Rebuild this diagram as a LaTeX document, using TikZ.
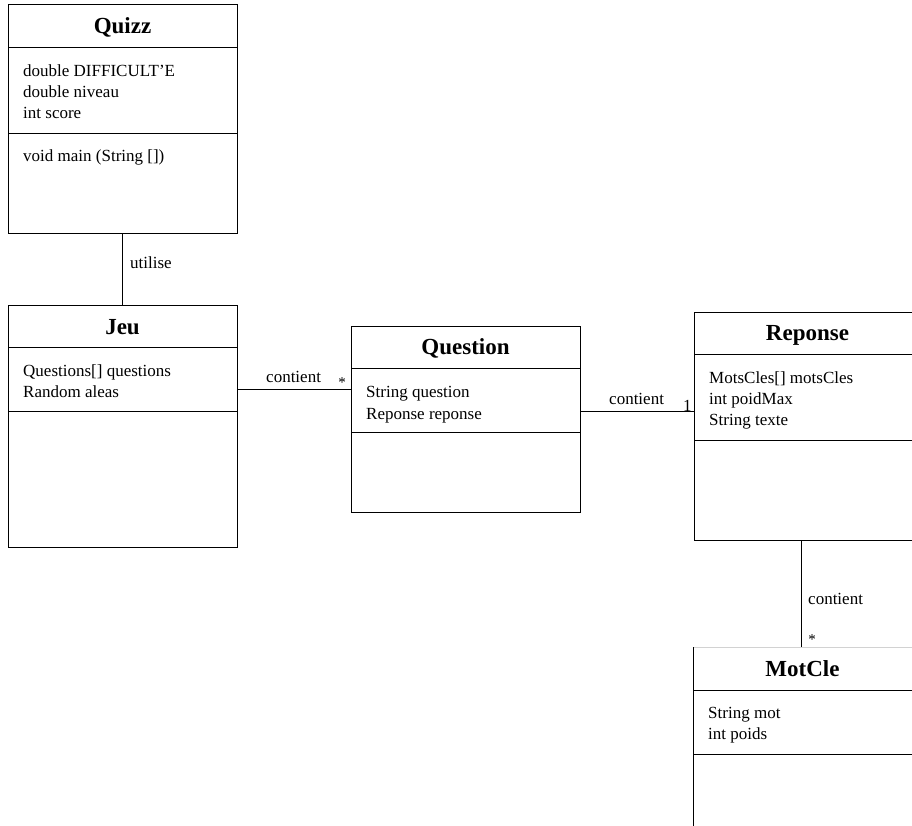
\documentclass[tikz,border=0pt]{standalone}
\usepackage{fontspec}
\setmainfont{Liberation Serif}
\usetikzlibrary{calc}
\begin{document}
\begin{tikzpicture}[x=1pt,y=-1pt,
  classbox/.style={draw, line width=0.9pt, inner sep=0pt, outer sep=0pt, anchor=north west},
  sep/.style={line width=0.9pt},
  conn/.style={line width=0.9pt},
  title/.style={anchor=base, inner sep=0pt, font=\fontsize{23}{27}\selectfont\bfseries},
  attr/.style={anchor=base west, inner sep=0pt, font=\fontsize{17}{21}\selectfont},
  lbl/.style={anchor=base west, inner sep=0pt, font=\fontsize{17}{21}\selectfont},
  mult/.style={anchor=center, inner sep=0pt, font=\fontsize{15}{17}\selectfont}
]
\useasboundingbox (0,0) rectangle (912,825);
\clip (0,0) rectangle (912,825);
\fill[white] (0,0) rectangle (912,825);

% Quizz
\node[classbox, minimum width=229pt, minimum height=229pt] (quizz) at (8,4) {};
\draw[sep] (quizz.west |- 0,47) -- (quizz.east |- 0,47);
\draw[sep] (quizz.west |- 0,133) -- (quizz.east |- 0,133);
\node[title] (quizzT) at (122.5,33) {Quizz};
\node[attr] (quizzA1) at (23,76) {double DIFFICULT'E};
\node[attr] (quizzA2) at (23,97) {double niveau};
\node[attr] (quizzA3) at (23,118) {int score};
\node[attr] (quizzM1) at (23,161) {void main (String [])};

% Jeu
\node[classbox, minimum width=229pt, minimum height=242pt] (jeu) at (8,305) {};
\draw[sep] (jeu.west |- 0,347) -- (jeu.east |- 0,347);
\draw[sep] (jeu.west |- 0,411) -- (jeu.east |- 0,411);
\node[title] (jeuT) at (122.5,334) {Jeu};
\node[attr] (jeuA1) at (23,376) {Questions[] questions};
\node[attr] (jeuA2) at (23,397) {Random aleas};

% Question
\node[classbox, minimum width=229pt, minimum height=186pt] (question) at (351,326) {};
\draw[sep] (question.west |- 0,368) -- (question.east |- 0,368);
\draw[sep] (question.west |- 0,432) -- (question.east |- 0,432);
\node[title] (questionT) at (465.5,354) {Question};
\node[attr] (questionA1) at (366,397) {String question};
\node[attr] (questionA2) at (366,419) {Reponse reponse};

% Reponse
\node[classbox, minimum width=227pt, minimum height=228pt] (reponse) at (694,312) {};
\draw[sep] (reponse.west |- 0,354) -- (reponse.east |- 0,354);
\draw[sep] (reponse.west |- 0,440) -- (reponse.east |- 0,440);
\node[title] (reponseT) at (807.5,340) {Reponse};
\node[attr] (reponseA1) at (709,383) {MotsCles[] motsCles};
\node[attr] (reponseA2) at (709,404) {int poidMax};
\node[attr] (reponseA3) at (709,425) {String texte};

% MotCle
\node[inner sep=0pt, outer sep=0pt, anchor=north west, minimum width=225pt, minimum height=200pt] (motcle) at (693,647) {};
\draw[line width=0.9pt, gray!35] (motcle.north west) -- (motcle.north east);
\draw[sep] (motcle.north west) -- (motcle.south west);
\draw[sep] (motcle.west |- 0,690) -- (motcle.east |- 0,690);
\draw[sep] (motcle.west |- 0,754) -- (motcle.east |- 0,754);
\node[title] (motcleT) at (802.5,676) {MotCle};
\node[attr] (motcleA1) at (708,718) {String mot};
\node[attr] (motcleA2) at (708,739) {int poids};

% Connectors
\draw[conn] (quizz.south) -- (jeu.north);
\node[lbl] (utiliseL) at (130,268) {utilise};

\coordinate (jq) at ($(jeu.north east)+(0,84.5)$);
\draw[conn] (jq) -- (jq -| question.west);
\node[lbl] (contient1) at (266,382) {contient};
\node[mult] (star1) at (342,383) {*};

\coordinate (qr) at ($(question.north east)+(0,85.5)$);
\draw[conn] (qr) -- (qr -| reponse.west);
\node[lbl] (contient2) at (609,404) {contient};
\node[lbl] (one) at (683,411) {1};

\coordinate (rm) at ($(reponse.south west)+(107.5,0)$);
\draw[conn] (rm) -- (rm |- motcle.north);
\node[lbl] (contient3) at (808,604) {contient};
\node[mult] (star2) at (812,640) {*};
\end{tikzpicture}
\end{document}
